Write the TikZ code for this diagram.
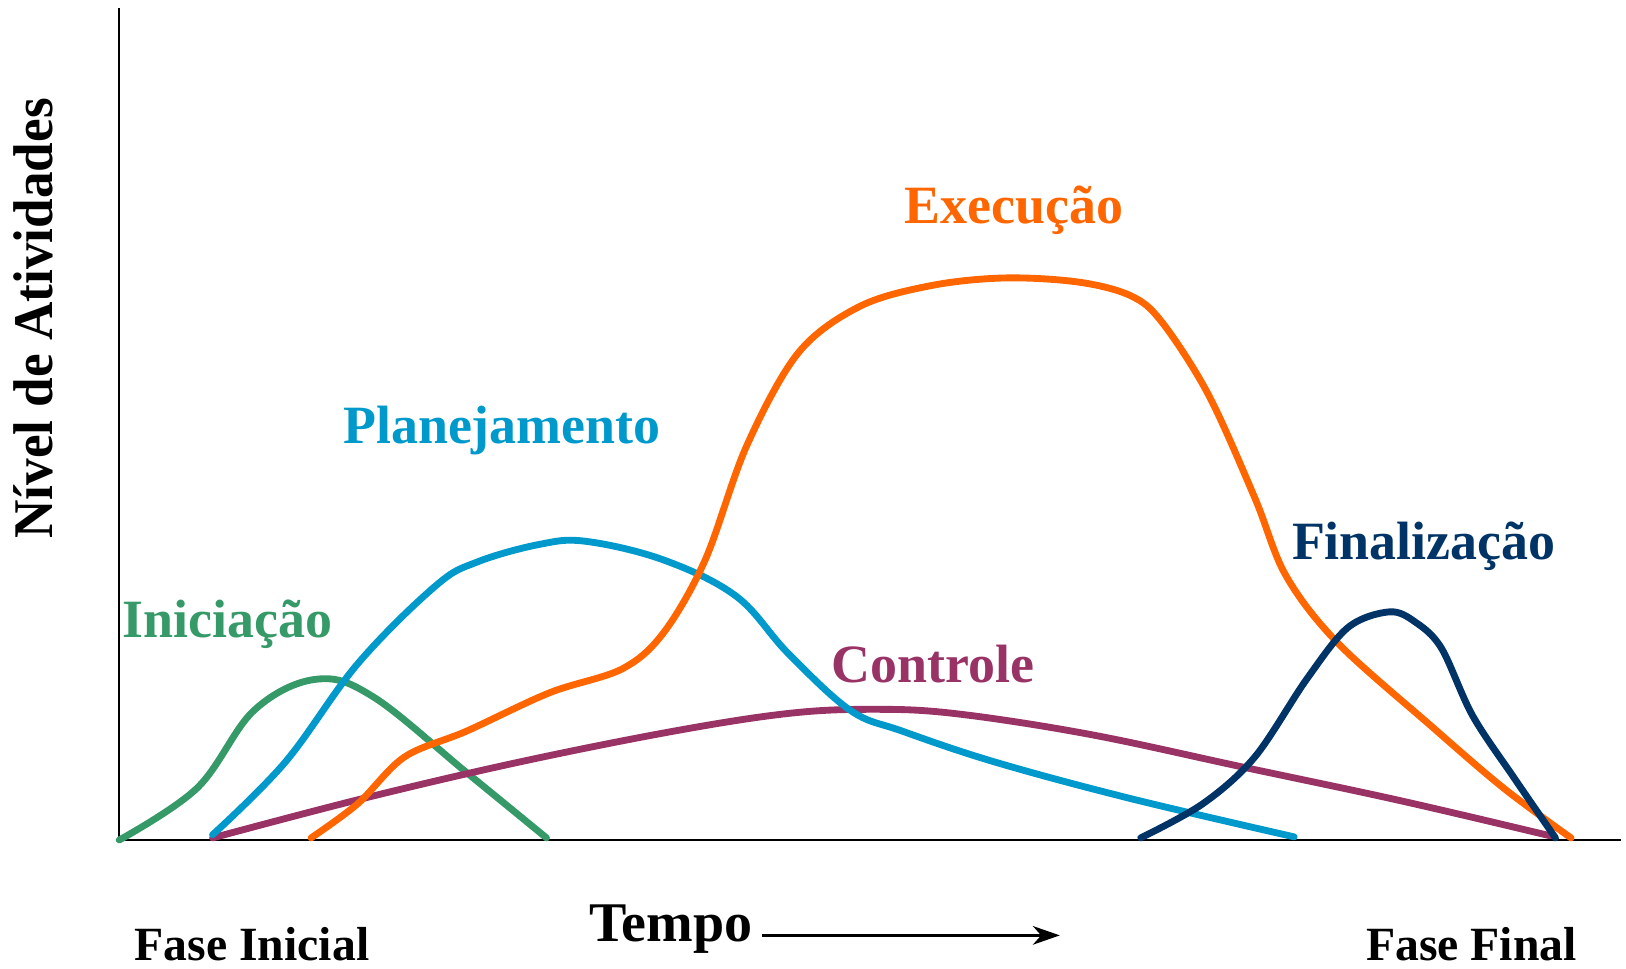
\documentclass[tikz,border=0pt]{standalone}
\usepackage{fontspec}
\setmainfont{Liberation Serif}
\usetikzlibrary{arrows.meta}
\definecolor{cgreen}{HTML}{369A68}
\definecolor{cblue}{HTML}{0099CC}
\definecolor{corange}{HTML}{FF6600}
\definecolor{cpurple}{HTML}{993366}
\definecolor{cnavy}{HTML}{003366}
\tikzset{
  curve/.style={line width=3.3pt, line cap=round, line join=round},
  axisline/.style={line width=1.1pt, black},
  lbl/.style={font=\bfseries\fontsize{26}{30}\selectfont, inner sep=0pt},
  foot/.style={font=\bfseries\fontsize{23}{26}\selectfont, inner sep=0pt},
}
\begin{document}
\begin{tikzpicture}[x=0.5pt,y=-0.5pt]
\useasboundingbox (0,0) rectangle (1568,934);
% axes
\coordinate (O) at (115,810);
\coordinate (Ytop) at (115,8);
\coordinate (Xend) at (1563,810);
\draw[axisline] (Ytop) -- (O) -- (Xend);
% curves
\draw[curve, cgreen] plot[smooth, tension=0.6] coordinates {(115,810) (190,760) (245,685) (305,655) (360,672) (450,745) (527,808)};
\draw[curve, cpurple] plot[smooth, tension=0.6] coordinates {(205,808) (350,770) (500,735) (650,705) (760,688) (840,684) (920,688) (1050,708) (1200,740) (1350,772) (1495,806)};
\draw[curve, cblue] plot[smooth, tension=0.6] coordinates {(205,805) (275,735) (345,640) (420,565) (460,542) (520,525) (565,522) (640,540) (710,575) (760,630) (820,685) (870,705) (960,735) (1090,770) (1248,807)};
\draw[curve, corange] plot[smooth, tension=0.55] coordinates {(300,808) (345,775) (390,730) (450,705) (530,668) (600,645) (640,610) (680,540) (720,430) (770,340) (830,295) (900,275) (970,268) (1040,272) (1090,285) (1120,310) (1165,380) (1210,480) (1240,555) (1290,620) (1380,700) (1450,760) (1515,808)};
\draw[curve, cnavy] plot[smooth, tension=0.55] coordinates {(1100,808) (1160,775) (1210,730) (1260,655) (1300,605) (1340,590) (1365,600) (1390,625) (1420,690) (1460,750) (1500,808)};
% labels
\node[lbl, text=corange] (exec) at (978,203) {Execução};
\node[lbl, text=cblue] (plan) at (484,415) {Planejamento};
\node[lbl, text=cnavy] (fin) at (1373,527) {Finalização};
\node[lbl, text=cgreen] (ini) at (219,602) {Iniciação};
\node[lbl, text=cpurple] (ctrl) at (900,640) {Controle};
% bottom
\node[font=\bfseries\fontsize{27}{30}\selectfont, inner sep=0pt] (tempo) at (647,896) {Tempo};
\coordinate (arrowend) at (1022,902);
\draw[line width=1.1pt, -{Stealth[length=13pt,width=9pt,inset=4pt]}] (735,902) -- (arrowend);
\node[foot] (fi) at (243,910) {Fase Inicial};
\node[foot] (ff) at (1419,910) {Fase Final};
% y label
\node[font=\bfseries\fontsize{27}{30}\selectfont, inner sep=0pt, rotate=90, xscale=0.95] (ylab) at (32,307) {Nível de Atividades};
\end{tikzpicture}
\end{document}
